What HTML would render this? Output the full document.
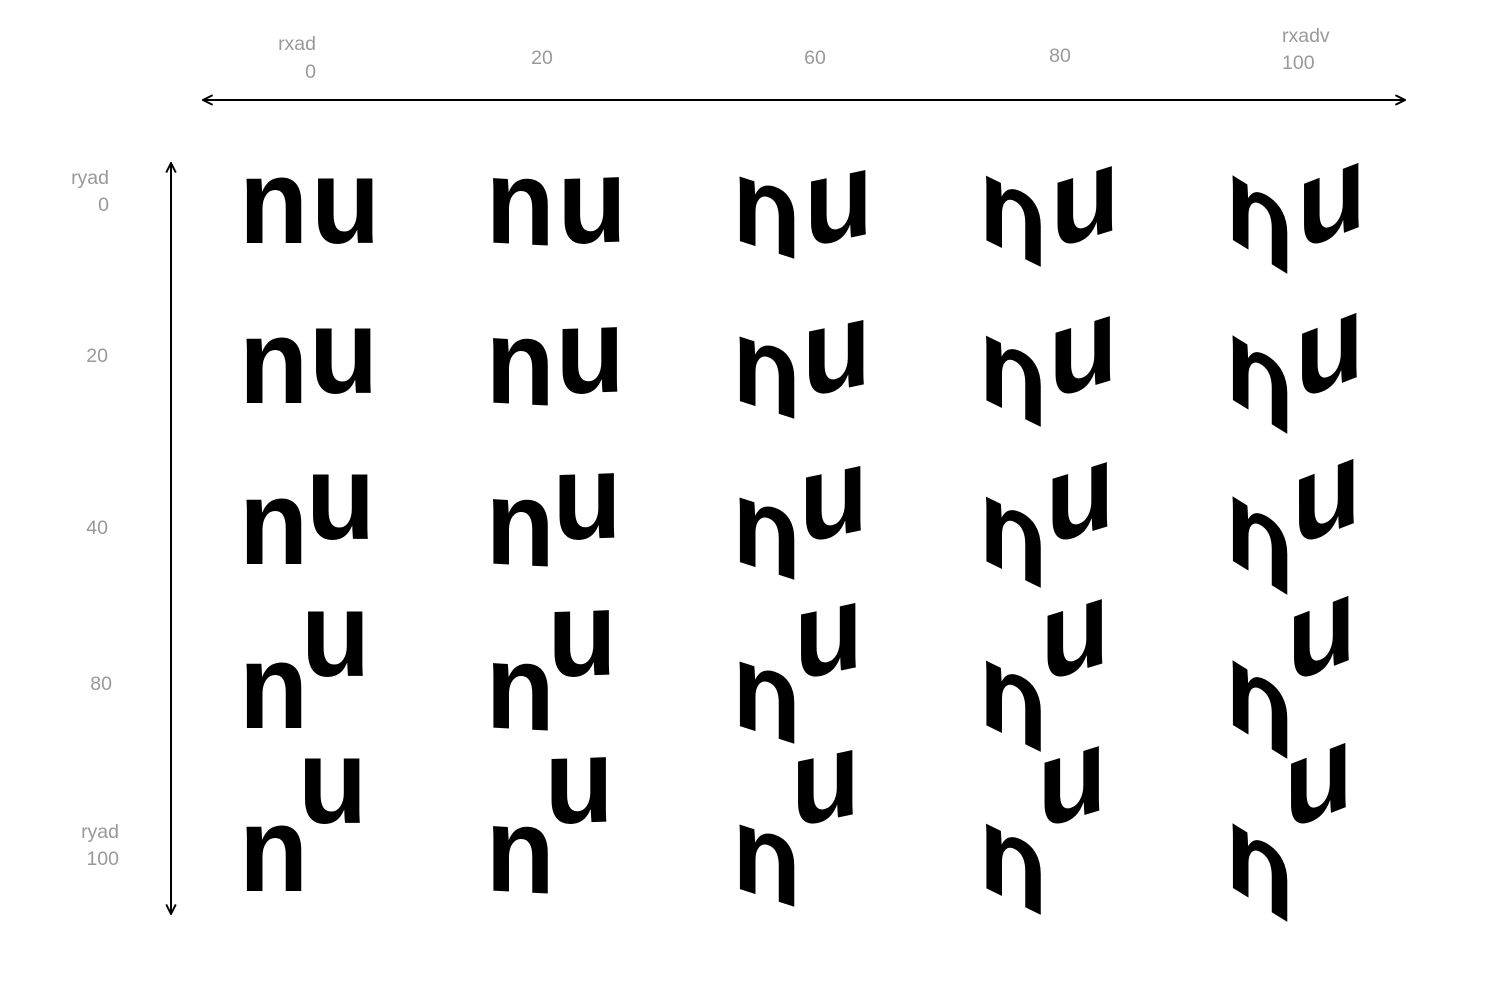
<!DOCTYPE html>
<html><head><meta charset="utf-8"><style>
html,body{margin:0;padding:0;background:#fff;}
svg{display:block;}
.lbl{font-family:"Liberation Sans",sans-serif;font-size:19.5px;fill:#999;}
.g{font-family:"Liberation Sans",sans-serif;font-weight:bold;font-size:122px;fill:#000;}
</style></head><body>
<svg id="chart" width="1512" height="982" viewBox="0 0 1512 982" xmlns="http://www.w3.org/2000/svg">
<defs>
<marker id="ah" viewBox="0 0 10 10" refX="9" refY="5" markerWidth="12" markerHeight="12" markerUnits="userSpaceOnUse" orient="auto-start-reverse">
<path d="M1 1 L9 5 L1 9" fill="none" stroke="#000" stroke-width="1.6"/>
</marker>
</defs>
<line x1="203" y1="100" x2="1405" y2="100" stroke="#000" stroke-width="2" marker-start="url(#ah)" marker-end="url(#ah)"/>
<line x1="171" y1="163" x2="171" y2="914" stroke="#000" stroke-width="2" marker-start="url(#ah)" marker-end="url(#ah)"/>
<g id="labels"></g>
<g id="cells"></g>
</svg>
<script>
const rxValues=[0,20,60,80,100];
const ryValues=[0,20,40,80,100];
const xTickLabels=[["rxad","0"],["20"],["60"],["80"],["rxadv","100"]];
const yTickLabels=[["ryad","0"],["20"],["40"],["80"],["ryad","100"]];
const nSkew=[0,3,18,26,32];
const uSkew=[0,-2,-12,-17,-21];
const uRise=[0,10,25,52,68];
const uShift=[0,-2,-5,-10,-13];
const NS="http://www.w3.org/2000/svg";
const lab=document.getElementById('labels');
const cells=document.getElementById('cells');
function colX(i){return 245+i*246.5;}
function mk(tag,attrs){const e=document.createElementNS(NS,tag);for(const k in attrs)e.setAttribute(k,attrs[k]);return e;}
const xl=[{x:316,y:[50,78],a:"end"},{x:542,y:[64],a:"middle"},{x:815,y:[64],a:"middle"},{x:1060,y:[62],a:"middle"},{x:1282,y:[42,69],a:"start"}];
xTickLabels.forEach((lines,i)=>{
  const t=mk('text',{class:'lbl','text-anchor':xl[i].a});
  
  
  lines.forEach((s,k)=>{const ts=mk('tspan',{x:xl[i].x,y:xl[i].y[k]});ts.textContent=s;t.appendChild(ts);});
  lab.appendChild(t);
});
const yl=[{x:109,y:[184,211]},{x:108,y:[362]},{x:108,y:[534]},{x:112,y:[690]},{x:119,y:[838,865]}];
yTickLabels.forEach((lines,j)=>{
  const t=mk('text',{class:'lbl','text-anchor':'end'});
  
  
  lines.forEach((s,k)=>{const ts=mk('tspan',{x:yl[j].x,y:yl[j].y[k]});ts.textContent=s;t.appendChild(ts);});
  lab.appendChild(t);
});
const baseY=[243,403,564,728,891];
for(let j=0;j<ryValues.length;j++){
  for(let i=0;i<rxValues.length;i++){
    const g=mk('g',{});
    
    
    const x0=colX(i), b=baseY[j]-(nSkew[i]*0.25);
    const gn=mk('g',{transform:`translate(${x0-6},${b}) skewY(${nSkew[i]}) scale(0.93,1)`});
    const tn=mk('text',{class:'g',x:0,y:0});tn.textContent='n';
    gn.appendChild(tn);
    const gu=mk('g',{transform:`translate(${x0+66+uShift[j]},${b-uRise[j]+(-uSkew[i]*0.45)+nSkew[i]*0.2}) skewY(${uSkew[i]}) scale(0.93,1)`});
    const tu=mk('text',{class:'g',x:0,y:0});tu.textContent='u';
    gu.appendChild(tu);
    g.appendChild(gn);g.appendChild(gu);
    cells.appendChild(g);
  }
}
</script>
</body></html>
